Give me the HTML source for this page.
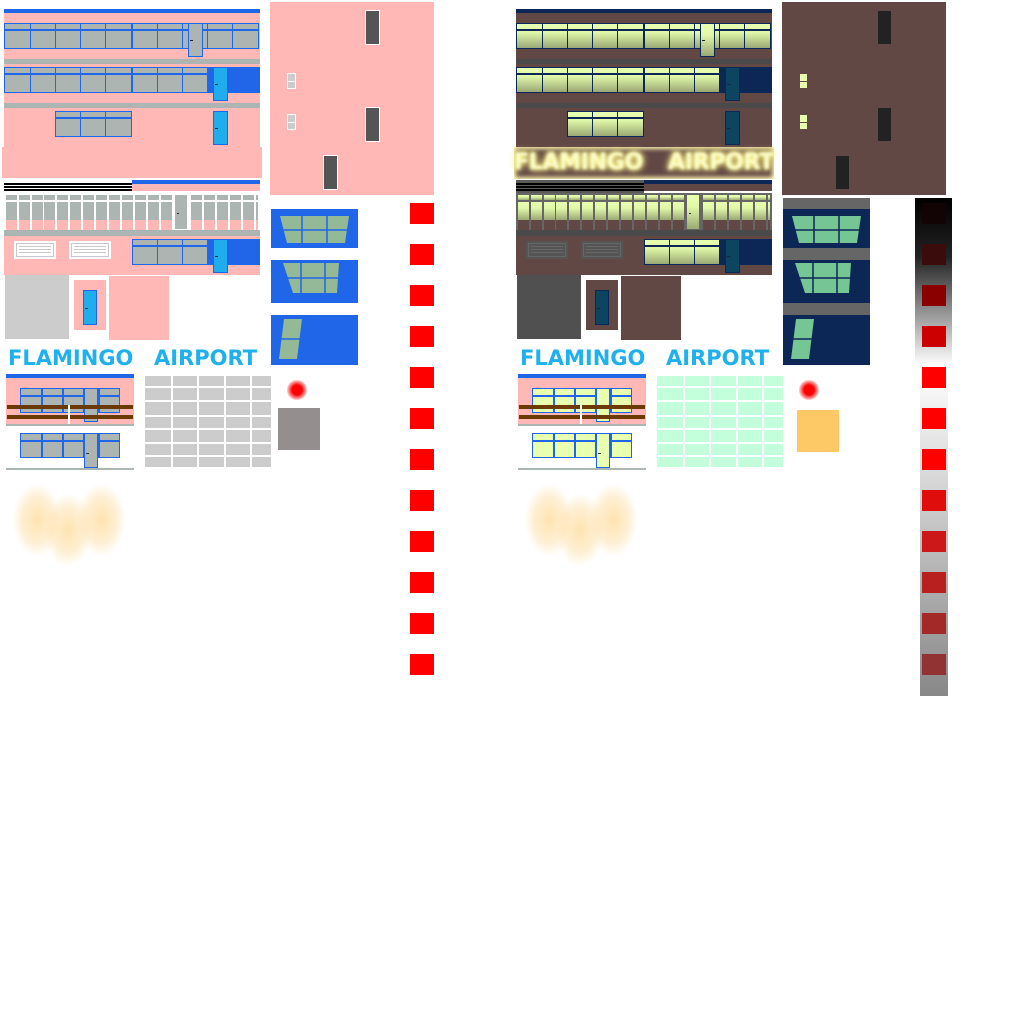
<!DOCTYPE html>
<html><head><meta charset="utf-8"><style>
html,body{margin:0;padding:0;background:#fff;}
#c{position:relative;width:1024px;height:1024px;overflow:hidden;background:#fff;}
#c div{position:absolute;box-sizing:border-box;}
.t{font-family:"DejaVu Sans","Liberation Sans",sans-serif;font-weight:bold;color:#1fb0ee;font-size:21px;line-height:22px;white-space:nowrap;position:absolute;}
.g{font-family:"DejaVu Sans","Liberation Sans",sans-serif;font-weight:bold;color:#fbfbc8;font-size:22px;line-height:24px;white-space:nowrap;position:absolute;text-shadow:0 0 3px #ffff80,0 0 6px #fff59a,0 0 8px #f5ec80;filter:blur(1.2px);}
</style></head><body><div id="c">
<span class="t" style="left:8px;top:347px;">FLAMINGO</span>
<span class="t" style="left:154px;top:347px;">AIRPORT</span>
<span class="t" style="left:520px;top:347px;">FLAMINGO</span>
<span class="t" style="left:666px;top:347px;">AIRPORT</span>
</div>
<script>
var C=document.getElementById('c');
function R(x,y,w,h,bg,ex){var d=document.createElement('div');d.style.cssText='left:'+x+'px;top:'+y+'px;width:'+w+'px;height:'+h+'px;background:'+bg+';'+(ex||'');C.insertBefore(d,C.querySelector('span'));return d;}
function facade(dx,P){
 R(dx+4,9,256,4,P.top);
 R(dx+4,13,256,135,P.wall);
 R(dx+2,147,260,31,P.wall);
 winrow(dx,[4,30,55,80,105,131,132,157,182,207,232,258],23,26,P);
 door(dx+188,23,15,34,P.win,P.frame,P);
 R(dx+4,59,256,5,P.band);
 winrow(dx,[4,30,55,80,105,131,132,157,182,207],67,26,P);
 R(dx+207,67,53,26,P.top);
 door(dx+213,67,15,34,P.door,P.frame,P);
 R(dx+4,103,256,5,P.band);
 winrow(dx,[55,80,105,131],111,26,P);
 door(dx+213,111,15,34,P.door,P.frame,P);
 R(dx+4,180,128,13,P.lineBg);
 [183,186,189].forEach(function(y){R(dx+4,y,128,1.5,'#000');});
 R(dx+132,180,128,4,P.top);
 R(dx+132,184,128,7,P.wall);
 R(dx+4,193,256,37,P.post);
 var xs=[6,19,32,44,57,70,83,96,109,122,135,148,161,191,204,217,230,243,256];
 xs.forEach(function(x){var w=Math.min(11,258-x);R(dx+x,195,w,5,P.pane);R(dx+x,202,w,18,P.pane);R(dx+x,220,w,10,P.pwall);});
 R(dx+175,195,12,34,P.pane);
 R(dx+177,213,2,1,'#333');
 R(dx+4,230,256,6,P.band);
 R(dx+4,236,256,39,P.wall);
 [14,69].forEach(function(x){R(dx+x,241,42,18,P.vent);R(dx+x+2,243,38,14,P.vent,'border:1px solid '+P.ventLine);[246,249,252].forEach(function(y){R(dx+x+5,y,32,1,P.ventLine);});});
 winrow(dx,[132,157,182,207],239,26,P);
 R(dx+207,239,53,26,P.top);
 door(dx+213,239,15,34,P.door,P.frame,P);
 R(dx+5,275,64,64,P.grey);
 R(dx+74,280,32,50,P.wall2);
 door(dx+83,290,14,35,P.door,P.frame,P);
 R(dx+109,276,60,64,P.wall2);
}
function winrow(dx,cols,y,h,P){
 for(var i=0;i<cols.length-1;i++){var x=cols[i],w=cols[i+1]-x;if(w<3){continue;}
  R(dx+x,y,w+1,h,P.win,'border:1.5px solid '+P.frame+';');
  R(dx+x,y+6,w+1,1.5,P.frame);}
}
function door(x,y,w,h,bg,fr,P){R(x,y,w,h,bg,'border:1.5px solid '+fr+';');R(x+2,y+h/2,3,1,'#222');}
var day={top:'#1f66e8',wall:'#ffb8b6',band:'#adb5b2',win:'#adb5b2',frame:'#1f66e8',door:'#1fadee',lineBg:'#fff',post:'#fff',pane:'#adb5b2',pwall:'#ffb8b6',vent:'#fff',ventLine:'#c8c8c8',grey:'#cccccc',wall2:'#ffb8b6'};
var nw='linear-gradient(#e8ffb0 0%,#e0f8a8 35%,#9aa874 100%)';
var night={top:'#0c2656',wall:'#624845',band:'#4a4a4a',win:nw,frame:'#0c2656',door:'#0d4560',lineBg:'#5a5a5a',post:'#666',pane:nw,pwall:'#624845',vent:'#555',ventLine:'#666',grey:'#505050',wall2:'#624845'};
facade(0,day);
facade(512,night);
R(514,147,260,32,'#624845','box-shadow:0 0 4px 2px #fff7b0 inset;');
var s=document.createElement('span');s.className='g';s.style.cssText='left:514px;top:151px;letter-spacing:-0.3px;';s.textContent='FLAMINGO';C.appendChild(s);
s=document.createElement('span');s.className='g';s.style.cssText='left:668px;top:151px;letter-spacing:-0.3px;';s.textContent='AIRPORT';C.appendChild(s);
function tall(dx,bg,dr,dw,sw){
 R(dx+270,2,164,193,bg);
 [[365,10],[365,107],[323,155]].forEach(function(p){R(dx+p[0],p[1],15,35,dr,'border:1.5px solid '+dw+';');});
 [[287,73],[287,114]].forEach(function(p){R(dx+p[0],p[1],9,16,sw,'border:1px solid '+dw+';');R(dx+p[0],p[1]+8,9,1,dw);});
}
tall(0,'#ffb8b6','#555','#fff','#ccc');
tall(512,'#624845','#222','#624845','#e8ffb0');
function svgPanel(x,P){
 var h='<svg width="90" height="170" xmlns="http://www.w3.org/2000/svg" style="position:absolute;left:'+x+'px;top:198px">';
 if(P.bands){h+='<rect x="0" y="0" width="87" height="11" fill="#666"/><rect x="0" y="50" width="87" height="12" fill="#666"/><rect x="0" y="105" width="87" height="12" fill="#666"/>';}
 h+='<rect x="0" y="11" width="87" height="39" fill="'+P.bg+'"/><rect x="0" y="62" width="87" height="43" fill="'+P.bg+'"/><rect x="0" y="117" width="87" height="50" fill="'+P.bg+'"/>';
 h+='<polygon points="9,18 78,18 74,45 16,45" fill="'+P.g+'"/><line x1="12" y1="32" x2="76" y2="32" stroke="'+P.bg+'" stroke-width="1.5"/><line x1="31" y1="18" x2="31" y2="45" stroke="'+P.bg+'" stroke-width="1.5"/><line x1="56" y1="18" x2="56" y2="45" stroke="'+P.bg+'" stroke-width="1.5"/>';
 h+='<polygon points="12,65 68,65 66,95 22,95" fill="'+P.g+'"/><line x1="15" y1="80" x2="67" y2="80" stroke="'+P.bg+'" stroke-width="1.5"/><line x1="30" y1="65" x2="30" y2="95" stroke="'+P.bg+'" stroke-width="1.5"/><line x1="54" y1="65" x2="54" y2="95" stroke="'+P.bg+'" stroke-width="1.5"/>';
 h+='<polygon points="13,121 31,121 26,161 8,161" fill="'+P.g+'"/><line x1="10" y1="141" x2="29" y2="141" stroke="'+P.bg+'" stroke-width="1.5"/>';
 h+='</svg>';
 C.insertAdjacentHTML('beforeend',h);
}
svgPanel(271,{bg:'#1f66e8',g:'#93b997',bands:false});
svgPanel(783,{bg:'#0c2656',g:'#76c594',bands:true});
for(var k=0;k<12;k++){R(410,203+41*k,24,21,'#ff0000');}
R(915,198,37,167,'linear-gradient(#000 0%,#222 35%,#888 65%,#fff 100%)');
R(920,365,28,331,'linear-gradient(#fff 0%,#ddd 30%,#aaa 70%,#888 100%)');
var reds=['#120404','#3a0c0c','#8a0000','#cc0000','#ff0000','#ff0000','#fd0000','#e00d0d','#cc1818','#b81f1f','#a32828','#913333'];
for(var k=0;k<12;k++){R(922,203+41*k,24,21,reds[k]);}
function small(dx,win){
 R(dx+6,374,128,4,'#1f66e8');R(dx+6,378,128,46,'#ffb8b6');
 R(dx+20,388,100,25,win,'border:1.5px solid #1f66e8;');
 [41,62,83,98].forEach(function(x){R(dx+x,388,1.5,25,'#1f66e8');});R(dx+20,395,100,1.5,'#1f66e8');
 R(dx+84,388,14,34,win,'border:1.5px solid #1f66e8;');
 R(dx+7,405,126,4,'#6b3a00');R(dx+7,415,126,4,'#6b3a00');R(dx+68,405,2,19,'#fff');
 R(dx+6,424,128,2,'#adb5b2');
 R(dx+20,433,100,25,win,'border:1.5px solid #1f66e8;');
 [41,62,83,98].forEach(function(x){R(dx+x,433,1.5,25,'#1f66e8');});R(dx+20,440,100,1.5,'#1f66e8');
 R(dx+84,433,14,35,win,'border:1.5px solid #1f66e8;');R(dx+86,453,3,1,'#333');
 R(dx+6,468,128,1.5,'#adb5b2');
}
small(0,'#adb5b2');small(512,'#e8ffb0');
function grid(dx,col){var xs=[[145,26],[173,24],[199,25],[226,24],[252,19]];var ys=[[376,10],[388,12],[402,13],[417,11],[430,12],[444,11],[457,10]];
 xs.forEach(function(a){ys.forEach(function(b){R(dx+a[0],b[0],a[1],b[1],col);});});}
grid(0,'#cccccc');grid(512,'#c4ffdc');
R(287,380,20,20,'radial-gradient(circle,#ff0000 0%,#ff0000 35%,rgba(255,0,0,0.3) 65%,rgba(255,0,0,0) 75%)');
R(799,380,20,20,'radial-gradient(circle,#ff0000 0%,#ff0000 35%,rgba(255,0,0,0.3) 65%,rgba(255,0,0,0) 75%)');
R(278,408,42,42,'#948f8e');R(797,410,42,42,'#fdc966');
function glow(dx){[[37,520],[68,530],[101,520]].forEach(function(p){R(dx+p[0]-24,p[1]-36,48,72,'radial-gradient(ellipse at center,rgba(253,215,140,0.7) 0%,rgba(253,220,160,0.45) 45%,rgba(255,235,200,0) 72%)','border-radius:50%;');});}
glow(0);glow(512);
</script>
</body></html>
